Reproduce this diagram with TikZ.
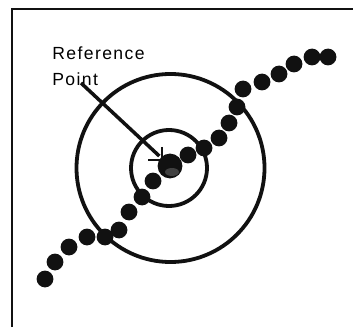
\documentclass[tikz,border=0pt]{standalone}
\usepackage{fontspec}
\setmainfont{Liberation Sans}[LetterSpace=8]
\usepackage{tikz}
\usetikzlibrary{positioning, calc}
\definecolor{inkblack}{HTML}{111111}
\colorlet{speckle}{inkblack!80}
\tikzset{
  ring/.style={draw=inkblack, line width=2.7pt},
  bead/.style={fill=inkblack},
  leader/.style={draw=inkblack, line width=2.5pt},
  frameline/.style={draw=inkblack, line width=1.4pt}
}

\begin{document}
\begin{tikzpicture}[x=0.025cm,y=-0.025cm]
  \useasboundingbox (0,0) rectangle (353,327);
  \fill[white] (0,0) rectangle (353,327);

  % cropped frame
  \draw[frameline] (12,327) -- (12,9) -- (353,9);

  % target rings
  \draw[ring] (170.5,168) circle (94);
  \draw[ring] (169,168) circle (38);

  % beads along the path
  \foreach \px/\py in {45/279, 55/262, 69/247, 87/237, 105/237, 119/230,
      129/212, 142/197, 153/181, 188/155, 204/148, 219/138, 229/123,
      237/107, 243/89, 262/82, 279/74, 294/64, 312/57, 328/57}
    \fill[bead] (\px,\py) circle (8.4);

  % reference point blob
  \node[circle, fill=inkblack, minimum size=0.62cm, inner sep=0pt] (refpt) at (170,166) {};
  \fill[speckle] (172,172) ellipse (7 and 4);
  \draw[inkblack, line width=2pt] (162,147) -- (162,158) (148,160) -- (160,160);

  % label and leader
  \node[anchor=west, align=left, font=\fontsize{12.5}{18.4}\selectfont, inner sep=0pt] (lbl) at (52,66) {Reference\\Point};
  \coordinate (tail) at (81,83);
  \coordinate (tip) at ($(refpt)!0.12!(tail)$);
  \draw[leader] (tail) -- (tip);
\end{tikzpicture}
\end{document}
